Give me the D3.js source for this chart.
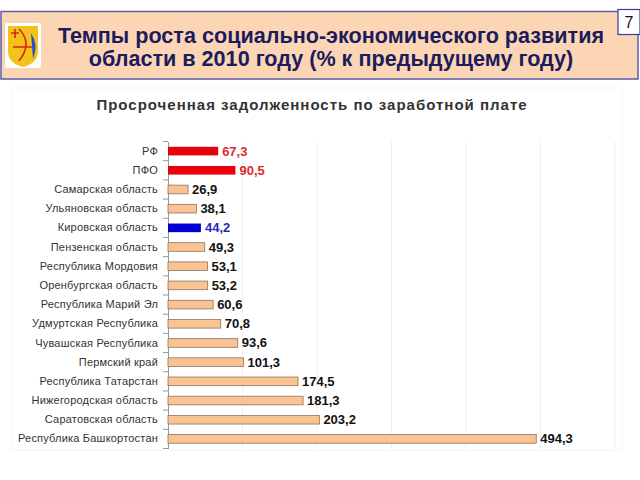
<html>
<head>
<meta charset="utf-8">
<script src="https://d3js.org/d3.v7.min.js"></script>
<style>
  body { margin: 0; background: #fff; }
  svg { display: block; font-family: "Liberation Sans", Arial, sans-serif; }
</style>
</head>
<body>
<div id="chart"></div>
<script>
var categories = ["РФ", "ПФО", "Самарская область", "Ульяновская область", "Кировская область",
  "Пензенская область", "Республика Мордовия", "Оренбургская область", "Республика Марий Эл",
  "Удмуртская Республика", "Чувашская Республика", "Пермский край", "Республика Татарстан",
  "Нижегородская область", "Саратовская область", "Республика Башкортостан"];
var values = [67.3, 90.5, 26.9, 38.1, 44.2, 49.3, 53.1, 53.2, 60.6, 70.8, 93.6, 101.3, 174.5, 181.3, 203.2, 494.3];
var gridTicks = [100, 200, 300, 400, 500, 600];

var width = 640, height = 480;
var svg = d3.select("#chart").append("svg")
  .attr("width", width).attr("height", height);

// header block
svg.append("rect").attr("x", 1).attr("y", 11.5).attr("width", 637).attr("height", 67.5)
  .attr("fill", "#fcd5b5").attr("stroke", "#5c5ca8").attr("stroke-width", 1.5);
svg.append("rect").attr("x", 618).attr("y", 9.5).attr("width", 22).attr("height", 25)
  .attr("fill", "#fff").attr("stroke", "#3a3a9a").attr("stroke-width", 1.2);
svg.append("text").attr("x", 629).attr("y", 28).attr("text-anchor", "middle")
  .attr("font-size", 16).attr("fill", "#111").text("7");

// emblem
var em = svg.append("g").attr("transform", "translate(5,23)");
em.append("rect").attr("width", 36).attr("height", 45).attr("rx", 2).attr("fill", "#fff");
em.append("path").attr("d", "M3,3 H33 V28 Q33,40 18,44 Q3,40 3,28 Z").attr("fill", "#f3c31c");
em.append("path").attr("d", "M14,6 Q28,20 14,38").attr("fill", "none").attr("stroke", "#d32a1a").attr("stroke-width", 1.6);
em.append("path").attr("d", "M8,24 H30 M6,10 H14 M10,6 V15").attr("fill", "none").attr("stroke", "#d32a1a").attr("stroke-width", 1.6);
em.append("path").attr("d", "M26,10 Q34,22 28,36 Z").attr("fill", "#2a4ec8");

var head = svg.append("g").attr("font-weight", "bold").attr("font-size", 21.6)
  .attr("fill", "#1c1c5c").attr("text-anchor", "middle");
head.append("text").attr("x", 331).attr("y", 43).text("Темпы роста социально-экономического развития");
head.append("text").attr("x", 331).attr("y", 66).text("области в 2010 году (% к предыдущему году)");

// chart area
svg.append("rect").attr("x", 12).attr("y", 88).attr("width", 610).attr("height", 362)
  .attr("fill", "#fff").attr("stroke", "#f4f4f4");

svg.append("text").attr("x", 312).attr("y", 110).attr("text-anchor", "middle")
  .attr("font-size", 15).attr("font-weight", "bold").attr("fill", "#333")
  .attr("letter-spacing", "1px").text("Просроченная задолженность по заработной плате");

var x = d3.scaleLinear().domain([0, 600]).range([168, 615]);
var y = d3.scaleBand().domain(categories).range([141.5, 448.5]).padding(0);

svg.append("g").selectAll("line").data(gridTicks).enter().append("line")
  .attr("x1", function(d) { return x(d); }).attr("x2", function(d) { return x(d); })
  .attr("y1", 141.5).attr("y2", 448.5)
  .attr("stroke", "#efefef");

var yAxis = svg.append("g").attr("transform", "translate(" + x(0) + ",0)")
  .call(d3.axisLeft(y).tickSize(0).tickPadding(10));
yAxis.select(".domain").attr("stroke", "#999");
yAxis.selectAll("text").attr("font-size", 11).attr("fill", "#333")
  .attr("font-family", "'Liberation Sans', Arial, sans-serif").attr("letter-spacing", "0.2px");

// ticks at category boundaries
var bounds = categories.map(function(c) { return y(c); }).concat([y.range()[1]]);
svg.append("g").selectAll("line").data(bounds).enter().append("line")
  .attr("x1", x(0) - 5).attr("x2", x(0))
  .attr("y1", function(d) { return d; }).attr("y2", function(d) { return d; })
  .attr("stroke", "#999");

function barColor(i) {
  if (i < 2) return "#e8000c";
  if (categories[i] === "Кировская область") return "#0000d6";
  return "#fac391";
}
function labelColor(i) {
  if (i < 2) return "#e02a2a";
  if (categories[i] === "Кировская область") return "#2a2ab8";
  return "#111";
}

var bh = y.bandwidth() * 0.45;
svg.append("g").selectAll("rect").data(values).enter().append("rect")
  .attr("x", x(0))
  .attr("y", function(d, i) { return y(categories[i]) + (y.bandwidth() - bh) / 2; })
  .attr("width", function(d) { return x(d) - x(0); })
  .attr("height", bh)
  .attr("fill", function(d, i) { return barColor(i); })
  .attr("stroke", function(d, i) { return i < 2 || i === 4 ? "none" : "#8c7462"; })
  .attr("stroke-width", 0.8);

svg.append("g").selectAll("text").data(values).enter().append("text")
  .attr("x", function(d) { return x(d) + 4; })
  .attr("y", function(d, i) { return y(categories[i]) + y.bandwidth() / 2 + 4.5; })
  .attr("font-size", 13).attr("font-weight", "bold")
  .attr("fill", function(d, i) { return labelColor(i); })
  .text(function(d) { return d3.format(".1f")(d).replace(".", ","); });
</script>
</body>
</html>
